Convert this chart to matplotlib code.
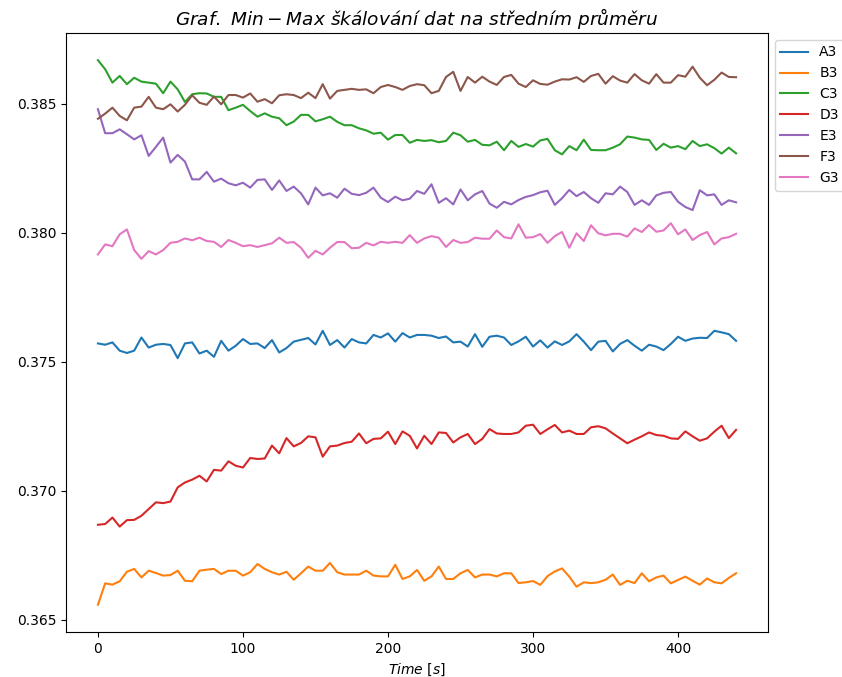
import numpy as np
import matplotlib
matplotlib.use("Agg")
import matplotlib.pyplot as plt

time = np.arange(0, 445, 5)

a3 = [0.37571, 0.37566, 0.37575, 0.37543, 0.37534, 0.37543, 0.37594, 0.37555, 0.37566, 0.37569,
      0.37565, 0.37514, 0.37571, 0.37575, 0.37532, 0.37543, 0.37519, 0.37581, 0.37543, 0.37562,
      0.37588, 0.37569, 0.37571, 0.37553, 0.37584, 0.37536, 0.37553, 0.37578, 0.37585, 0.37592,
      0.37567, 0.37620, 0.37565, 0.37584, 0.37555, 0.37588, 0.37575, 0.37571, 0.37604, 0.37594,
      0.37610, 0.37578, 0.37611, 0.37594, 0.37604, 0.37604, 0.37601, 0.37592, 0.37598, 0.37575,
      0.37578, 0.37559, 0.37607, 0.37558, 0.37597, 0.37601, 0.37594, 0.37565, 0.37579, 0.37597,
      0.37559, 0.37583, 0.37555, 0.37579, 0.37565, 0.37579, 0.37607, 0.37578, 0.37545, 0.37578,
      0.37581, 0.37540, 0.37569, 0.37584, 0.37562, 0.37543, 0.37566, 0.37559, 0.37545, 0.37569,
      0.37597, 0.37581, 0.37590, 0.37593, 0.37592, 0.37620, 0.37614, 0.37607, 0.37581]

b3 = [0.36558, 0.36641, 0.36636, 0.36649, 0.36686, 0.36697, 0.36664, 0.36690, 0.36681, 0.36671,
      0.36673, 0.36690, 0.36651, 0.36649, 0.36690, 0.36694, 0.36697, 0.36677, 0.36690, 0.36690,
      0.36671, 0.36684, 0.36716, 0.36697, 0.36684, 0.36675, 0.36686, 0.36655, 0.36680, 0.36706,
      0.36690, 0.36690, 0.36720, 0.36684, 0.36675, 0.36675, 0.36675, 0.36690, 0.36671, 0.36668,
      0.36668, 0.36713, 0.36658, 0.36668, 0.36693, 0.36651, 0.36668, 0.36706, 0.36658, 0.36658,
      0.36680, 0.36693, 0.36664, 0.36675, 0.36675, 0.36668, 0.36680, 0.36680, 0.36642, 0.36645,
      0.36650, 0.36635, 0.36669, 0.36687, 0.36699, 0.36667, 0.36628, 0.36645, 0.36642, 0.36645,
      0.36655, 0.36675, 0.36635, 0.36651, 0.36642, 0.36680, 0.36649, 0.36664, 0.36671, 0.36641,
      0.36654, 0.36667, 0.36651, 0.36636, 0.36660, 0.36645, 0.36641, 0.36662, 0.36680]

c3 = [0.38669, 0.38634, 0.38582, 0.38608, 0.38576, 0.38601, 0.38586, 0.38582, 0.38578, 0.38541,
      0.38586, 0.38556, 0.38507, 0.38537, 0.38541, 0.38540, 0.38527, 0.38527, 0.38475, 0.38485,
      0.38496, 0.38472, 0.38450, 0.38463, 0.38450, 0.38444, 0.38417, 0.38431, 0.38457, 0.38457,
      0.38432, 0.38440, 0.38450, 0.38430, 0.38417, 0.38417, 0.38405, 0.38397, 0.38384, 0.38388,
      0.38361, 0.38379, 0.38379, 0.38349, 0.38360, 0.38356, 0.38359, 0.38351, 0.38356, 0.38388,
      0.38378, 0.38353, 0.38360, 0.38341, 0.38339, 0.38353, 0.38320, 0.38356, 0.38333, 0.38344,
      0.38334, 0.38358, 0.38364, 0.38320, 0.38304, 0.38336, 0.38320, 0.38361, 0.38321, 0.38320,
      0.38320, 0.38330, 0.38343, 0.38373, 0.38369, 0.38362, 0.38360, 0.38321, 0.38345, 0.38330,
      0.38336, 0.38324, 0.38356, 0.38336, 0.38343, 0.38328, 0.38307, 0.38330, 0.38308]

d3 = [0.36868, 0.36871, 0.36896, 0.36861, 0.36886, 0.36887, 0.36903, 0.36929, 0.36955, 0.36952,
      0.36958, 0.37013, 0.37032, 0.37043, 0.37058, 0.37036, 0.37081, 0.37078, 0.37114, 0.37097,
      0.37090, 0.37127, 0.37123, 0.37125, 0.37175, 0.37145, 0.37204, 0.37172, 0.37185, 0.37211,
      0.37207, 0.37132, 0.37172, 0.37175, 0.37185, 0.37190, 0.37222, 0.37184, 0.37201, 0.37203,
      0.37229, 0.37181, 0.37230, 0.37213, 0.37164, 0.37213, 0.37181, 0.37226, 0.37224, 0.37187,
      0.37207, 0.37220, 0.37181, 0.37201, 0.37239, 0.37222, 0.37220, 0.37220, 0.37226, 0.37252,
      0.37256, 0.37220, 0.37238, 0.37255, 0.37226, 0.37233, 0.37220, 0.37220, 0.37246, 0.37250,
      0.37242, 0.37222, 0.37203, 0.37184, 0.37198, 0.37211, 0.37226, 0.37216, 0.37213, 0.37203,
      0.37201, 0.37230, 0.37211, 0.37194, 0.37203, 0.37229, 0.37252, 0.37204, 0.37236]

e3 = [0.38479, 0.38386, 0.38386, 0.38401, 0.38382, 0.38362, 0.38378, 0.38298, 0.38333, 0.38369,
      0.38272, 0.38302, 0.38276, 0.38207, 0.38207, 0.38236, 0.38198, 0.38210, 0.38192, 0.38184,
      0.38194, 0.38175, 0.38205, 0.38207, 0.38166, 0.38203, 0.38162, 0.38179, 0.38153, 0.38110,
      0.38175, 0.38145, 0.38153, 0.38136, 0.38171, 0.38151, 0.38146, 0.38155, 0.38175, 0.38136,
      0.38119, 0.38140, 0.38126, 0.38132, 0.38162, 0.38151, 0.38188, 0.38116, 0.38134, 0.38110,
      0.38168, 0.38126, 0.38149, 0.38162, 0.38113, 0.38097, 0.38120, 0.38110, 0.38127, 0.38139,
      0.38146, 0.38157, 0.38163, 0.38108, 0.38134, 0.38166, 0.38142, 0.38158, 0.38134, 0.38116,
      0.38153, 0.38149, 0.38179, 0.38158, 0.38108, 0.38126, 0.38108, 0.38145, 0.38155, 0.38158,
      0.38120, 0.38100, 0.38088, 0.38165, 0.38145, 0.38149, 0.38108, 0.38126, 0.38118]

f3 = [0.38442, 0.38462, 0.38485, 0.38453, 0.38436, 0.38485, 0.38489, 0.38527, 0.38485, 0.38479,
      0.38498, 0.38470, 0.38496, 0.38533, 0.38504, 0.38496, 0.38528, 0.38498, 0.38534, 0.38534,
      0.38524, 0.38540, 0.38508, 0.38518, 0.38502, 0.38533, 0.38537, 0.38534, 0.38522, 0.38543,
      0.38522, 0.38576, 0.38520, 0.38550, 0.38554, 0.38558, 0.38554, 0.38556, 0.38541, 0.38565,
      0.38573, 0.38565, 0.38554, 0.38569, 0.38576, 0.38572, 0.38541, 0.38550, 0.38604, 0.38624,
      0.38550, 0.38604, 0.38582, 0.38605, 0.38586, 0.38573, 0.38604, 0.38612, 0.38578, 0.38565,
      0.38591, 0.38577, 0.38574, 0.38586, 0.38595, 0.38594, 0.38603, 0.38585, 0.38608, 0.38616,
      0.38578, 0.38607, 0.38590, 0.38582, 0.38615, 0.38591, 0.38578, 0.38615, 0.38582, 0.38582,
      0.38611, 0.38605, 0.38644, 0.38601, 0.38572, 0.38593, 0.38621, 0.38604, 0.38603]

g3 = [0.37916, 0.37955, 0.37948, 0.37994, 0.38013, 0.37933, 0.37899, 0.37929, 0.37916, 0.37933,
      0.37961, 0.37965, 0.37978, 0.37971, 0.37981, 0.37968, 0.37965, 0.37945, 0.37972, 0.37961,
      0.37948, 0.37952, 0.37945, 0.37952, 0.37959, 0.37981, 0.37961, 0.37964, 0.37942, 0.37903,
      0.37930, 0.37916, 0.37942, 0.37964, 0.37964, 0.37940, 0.37942, 0.37961, 0.37951, 0.37965,
      0.37961, 0.37965, 0.37961, 0.37991, 0.37961, 0.37978, 0.37987, 0.37981, 0.37945, 0.37972,
      0.37961, 0.37964, 0.37981, 0.37977, 0.37977, 0.38009, 0.37983, 0.37978, 0.38033, 0.37981,
      0.37983, 0.37995, 0.37961, 0.37987, 0.38003, 0.37942, 0.37998, 0.37968, 0.38029, 0.37998,
      0.37990, 0.37996, 0.37996, 0.37985, 0.38017, 0.38003, 0.38030, 0.38004, 0.38009, 0.38037,
      0.37994, 0.38013, 0.37972, 0.37991, 0.38003, 0.37955, 0.37978, 0.37983, 0.37996]

labels = ["A3", "B3", "C3", "D3", "E3", "F3", "G3"]
series = [a3, b3, c3, d3, e3, f3, g3]

fig = plt.figure(figsize=(8.42, 6.77), dpi=100)
ax = fig.add_axes([0.0784, 0.0665, 0.8337, 0.8848])

for lab, ys in zip(labels, series):
    ax.plot(time, ys, label=lab)

ax.set_title(r"$Graf.\ Min-Max\ škálování\ dat\ na\ středním\ průměru$", fontsize=13.3)
ax.set_xlabel(r"$Time\ [s]$")
ax.set_xticks([0, 100, 200, 300, 400])
ax.set_yticks([0.365, 0.370, 0.375, 0.380, 0.385])
ax.legend(bbox_to_anchor=(1, 1), loc="upper left")

fig.savefig("out.png", dpi=100)
